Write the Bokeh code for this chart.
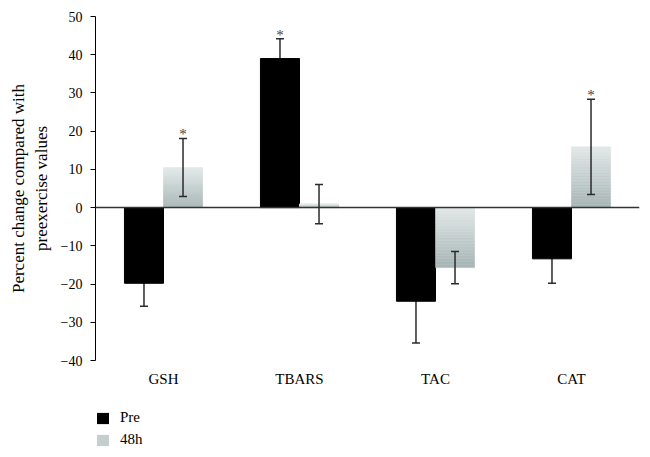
from bokeh.plotting import figure
from bokeh.layouts import column
from bokeh.models import (ColumnDataSource, Range1d, FixedTicker, Whisker, TeeHead,
                          Span, Legend, LegendItem)
from bokeh.core.properties import value
from bokeh.embed import file_html
from bokeh.resources import INLINE
import numpy as np

categories = ["GSH", "TBARS", "TAC", "CAT"]
pre_values = [-19.8, 39.0, -24.5, -13.4]
pre_errors = [6.0, 5.2, 10.9, 6.4]
post_values = [10.5, 0.9, -15.7, 15.9]
post_errors = [7.6, 5.15, 4.25, 12.45]
pre_sig = [False, True, False, False]
post_sig = [True, False, False, True]
y_ticks = [-40, -30, -20, -10, 0, 10, 20, 30, 40, 50]
series_labels = ["Pre", "48h"]

FONT = "Liberation Serif"
BAR_W = 0.287
DODGE = BAR_W / 2
PRE_COLOR = "black"
POST_COLOR = "#c4cecd"

centers = np.arange(len(categories)) + 0.5
x_pre = centers - DODGE
x_post = centers + DODGE

p = figure(width=642, height=390, output_backend="svg", toolbar_location=None,
           x_range=Range1d(0, len(categories)), y_range=Range1d(y_ticks[0], y_ticks[-1]),
           min_border_left=95, min_border_right=3, min_border_top=16, min_border_bottom=30)
p.outline_line_color = None
p.grid.visible = False

# Pre bars
pre_src = ColumnDataSource(dict(x=x_pre, top=pre_values,
                                upper=np.array(pre_values) + np.array(pre_errors),
                                lower=np.array(pre_values) - np.array(pre_errors)))
p.vbar(x="x", top="top", bottom=0, width=BAR_W, source=pre_src,
       fill_color=PRE_COLOR, line_color=PRE_COLOR)

# 48h bars: vertical gradient strips
post_src = ColumnDataSource(dict(x=x_post, top=post_values,
                                 upper=np.array(post_values) + np.array(post_errors),
                                 lower=np.array(post_values) - np.array(post_errors)))
top_col = np.array([0xe2, 0xe8, 0xe7])
bot_col = np.array([0xa6, 0xb5, 0xb5])
N = 40
sl, sr, sb, st, sc = [], [], [], [], []
for xc, v in zip(x_post, post_values):
    lo, hi = min(0, v), max(0, v)
    for i in range(N):
        f = (i + 0.5) / N
        c = bot_col + (top_col - bot_col) * f
        sl.append(xc - BAR_W / 2)
        sr.append(xc + BAR_W / 2)
        sb.append(lo + (hi - lo) * i / N)
        st.append(lo + (hi - lo) * (i + 1) / N)
        sc.append("#%02x%02x%02x" % tuple(int(round(k)) for k in c))
p.quad(left=sl, right=sr, bottom=sb, top=st, fill_color=sc, line_color=sc, line_width=0.5)

# error bars
ERR = "#2b2b2b"
def head():
    return TeeHead(size=8, line_color=ERR, line_width=1.5)
p.add_layout(Whisker(base="x", upper="upper", lower="lower", source=pre_src, level="underlay",
                     line_color=ERR, line_width=1.5, upper_head=head(), lower_head=head()))
p.add_layout(Whisker(base="x", upper="upper", lower="lower", source=post_src, level="overlay",
                     line_color=ERR, line_width=1.5, upper_head=head(), lower_head=head()))

# zero line
p.add_layout(Span(location=0, dimension="width", line_color="#333333", line_width=1.5))

# significance stars
sx, sy = [], []
for xs, vals, errs, sig in [(x_pre, pre_values, pre_errors, pre_sig),
                            (x_post, post_values, post_errors, post_sig)]:
    for xv, v, e, s in zip(xs, vals, errs, sig):
        if s:
            sx.append(xv)
            sy.append(v + e)
p.text(x=sx, y=sy, text=["*"] * len(sx), text_align="center", text_baseline="alphabetic",
       y_offset=-4, text_font=value(FONT), text_font_size="15px", text_color="#444444")

# axes
p.yaxis.ticker = FixedTicker(ticks=y_ticks)
p.yaxis.major_label_overrides = {t: (str(t).replace("-", "\u2212")) for t in y_ticks}
p.yaxis.minor_tick_line_color = None
p.yaxis.major_tick_in = 0
p.yaxis.major_tick_out = 5
p.yaxis.major_label_standoff = 8
p.yaxis.axis_line_color = "black"
p.yaxis.major_tick_line_color = "black"
p.yaxis.major_label_text_font = FONT
p.yaxis.major_label_text_font_size = "14px"
p.yaxis.major_label_text_color = "black"
p.yaxis.axis_label = "Percent change compared with\npreexercise values"
p.yaxis.axis_label_text_font = FONT
p.yaxis.axis_label_text_font_size = "17px"
p.yaxis.axis_label_text_font_style = "normal"
p.yaxis.axis_label_text_color = "black"
p.yaxis.axis_label_standoff = 7

p.xaxis.ticker = FixedTicker(ticks=list(centers))
p.xaxis.major_label_overrides = {float(c): n for c, n in zip(centers, categories)}
p.xaxis.axis_line_color = None
p.xaxis.major_tick_line_color = None
p.xaxis.minor_tick_line_color = None
p.xaxis.major_tick_out = 0
p.xaxis.major_label_standoff = 10
p.xaxis.major_label_text_font = FONT
p.xaxis.major_label_text_font_size = "15px"
p.xaxis.major_label_text_color = "black"

# legend in its own small figure below
lp = figure(width=642, height=64, output_backend="svg", toolbar_location=None,
            x_range=Range1d(0, 1), y_range=Range1d(0, 1),
            min_border_left=95, min_border_right=0, min_border_top=19, min_border_bottom=0)
lp.axis.visible = False
lp.grid.visible = False
lp.outline_line_color = None
# zero-size placeholder glyphs, used only to draw the legend swatches
r1 = lp.vbar(x=[0], top=[0], bottom=[0], width=0, fill_color=PRE_COLOR, line_color=None)
r2 = lp.vbar(x=[0], top=[0], bottom=[0], width=0, fill_color=POST_COLOR, line_color=None)
legend = Legend(items=[LegendItem(label=series_labels[0], renderers=[r1]),
                       LegendItem(label=series_labels[1], renderers=[r2])],
                location="top_left", orientation="vertical",
                glyph_width=15, glyph_height=14, spacing=5, label_standoff=10,
                padding=0, margin=0, border_line_color=None, background_fill_alpha=0,
                label_text_font=FONT, label_text_font_size="15px", label_height=14,
                label_text_color="black")
lp.add_layout(legend)

open("out.html", "w").write(file_html(column(p, lp, spacing=0), INLINE))
